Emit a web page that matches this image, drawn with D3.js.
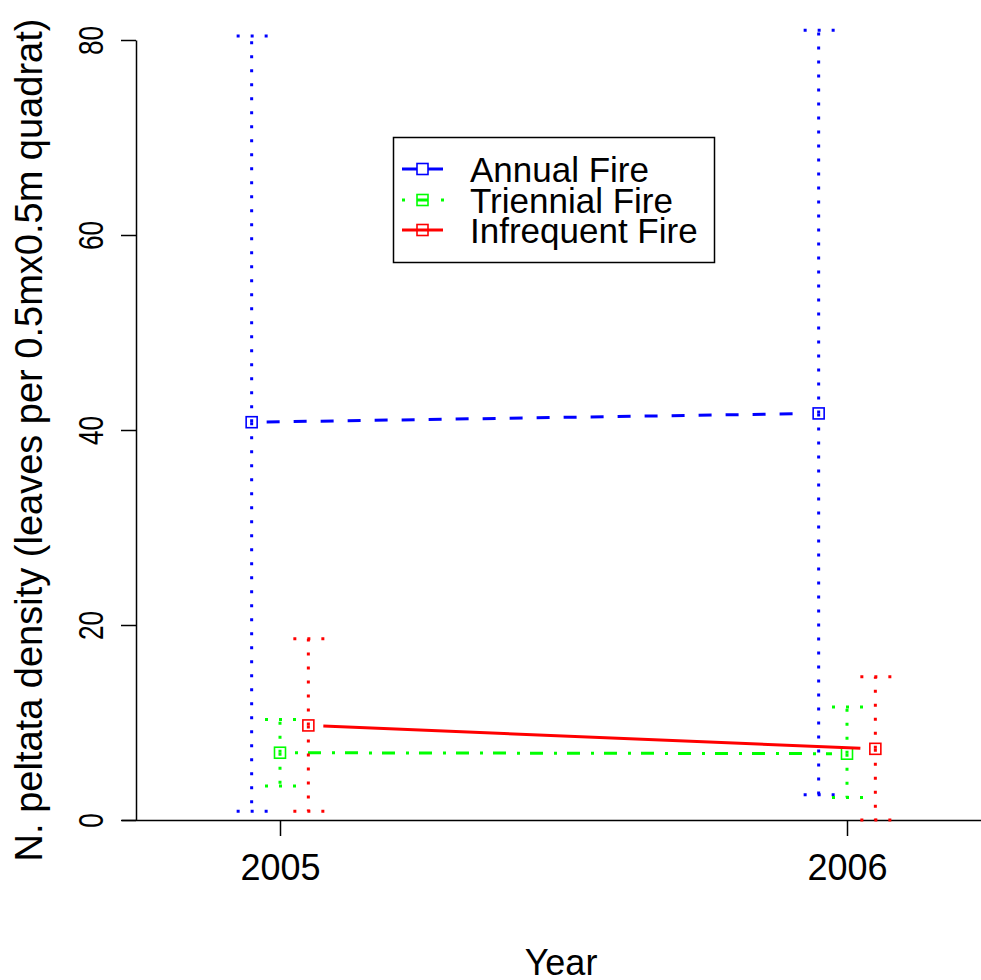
<!DOCTYPE html>
<html>
<head>
<meta charset="utf-8">
<script src="https://cdn.jsdelivr.net/npm/d3@7"></script>
<style>
	body { margin: 0; background: white; }
	svg text { font-family: "Liberation Sans", Arial, sans-serif; fill: black; }
</style>
</head>
<body>
<div id="chart-area"></div>
<script>

// data
const years = [2005, 2006];
const seriesNames = ["Annual Fire", "Triennial Fire", "Infrequent Fire"];

const annualMean = [40.8, 41.7];
const annualLow = [0.9, 2.6];
const annualHigh = [80.4, 81.0];

const triennialMean = [6.9, 6.8];
const triennialLow = [3.5, 2.3];
const triennialHigh = [10.3, 11.6];

const infrequentMean = [9.7, 7.3];
const infrequentLow = [0.9, 0.0];
const infrequentHigh = [18.6, 14.7];

const yTicks = [0, 20, 40, 60, 80];


class FireDensityVis {

	constructor(_parentElement) {
		this.parentElement = _parentElement;
		this.initVis();
	}

	initVis() {
		let vis = this;

		vis.width = 981;
		vis.height = 980;

		// style per series (colour, dash of the connecting line, small x dodge in years)
		vis.styles = [
			{ color: "#0000ff", dash: "13,14", dodge: -0.05 },
			{ color: "#00ff00", dash: "3,10,13,11", dodge: 0 },
			{ color: "#ff0000", dash: null, dodge: 0.05 }
		];

		vis.series = [
			{ name: seriesNames[0], mean: annualMean, low: annualLow, high: annualHigh },
			{ name: seriesNames[1], mean: triennialMean, low: triennialLow, high: triennialHigh },
			{ name: seriesNames[2], mean: infrequentMean, low: infrequentLow, high: infrequentHigh }
		];

		vis.svg = d3.select("#" + vis.parentElement).append("svg")
			.attr("width", vis.width)
			.attr("height", vis.height);

		vis.xScale = d3.scaleLinear()
			.domain([2005, 2006])
			.range([280, 847]);

		vis.yScale = d3.scaleLinear()
			.domain([0, 80])
			.range([820, 40]);

		// y axis
		vis.yAxis = d3.axisLeft(vis.yScale)
			.tickValues(yTicks)
			.tickSize(15)
			.tickSizeOuter(0)
			.tickPadding(0);

		vis.yAxisGroup = vis.svg.append("g")
			.attr("class", "y-axis")
			.attr("transform", "translate(136,0)")
			.call(vis.yAxis);

		vis.yAxisGroup.selectAll("path, line")
			.attr("stroke", "black")
			.attr("stroke-width", 1.5);
		// tick labels are narrow in the original, so squeeze them along the text
		vis.yAxisGroup.selectAll("text")
			.attr("x", 0)
			.attr("y", 0)
			.attr("dy", null)
			.attr("transform", "translate(-33,0) rotate(-90) scale(0.75,1)")
			.attr("text-anchor", "middle")
			.style("font-size", "35px")
			.style("font-family", "Liberation Sans, Arial, sans-serif")
			.attr("fill", "black");

		// x axis: long base line plus two ticks
		vis.svg.append("line")
			.attr("x1", 122)
			.attr("x2", 981)
			.attr("y1", 820.5)
			.attr("y2", 820.5)
			.attr("stroke", "black")
			.attr("stroke-width", 1.5);

		vis.xAxis = d3.axisBottom(vis.xScale)
			.tickValues(years)
			.tickFormat(d3.format("d"))
			.tickSize(16)
			.tickSizeOuter(0)
			.tickPadding(0);

		vis.xAxisGroup = vis.svg.append("g")
			.attr("class", "x-axis")
			.attr("transform", "translate(0,820)")
			.call(vis.xAxis);

		vis.xAxisGroup.select("path").remove();
		vis.xAxisGroup.selectAll("line")
			.attr("stroke", "black")
			.attr("stroke-width", 1.5);
		vis.xAxisGroup.selectAll("text")
			.attr("y", 60)
			.attr("dy", null)
			.style("font-size", "36px")
			.style("font-family", "Liberation Sans, Arial, sans-serif")
			.attr("fill", "black");

		// axis titles
		vis.svg.append("text")
			.attr("x", 561)
			.attr("y", 975)
			.attr("text-anchor", "middle")
			.style("font-size", "36px")
			.text("Year");

		vis.svg.append("text")
			.attr("transform", "translate(42,440) rotate(-90)")
			.attr("text-anchor", "middle")
			.style("font-size", "38px")
			.text("N. peltata density (leaves per 0.5mx0.5m quadrat)");

		vis.drawSeries();
		vis.drawLegend();
	}

	drawSeries() {
		let vis = this;
		let gap = 15;
		let capHalf = 15;

		vis.series.forEach(function (s, i) {
			let st = vis.styles[i];
			let pts = years.map((yr, j) => ({
				x: vis.xScale(yr + st.dodge),
				y: vis.yScale(s.mean[j]),
				lo: vis.yScale(s.low[j]),
				hi: vis.yScale(s.high[j])
			}));

			// connecting line, trimmed around the points like type="b"
			let dx = pts[1].x - pts[0].x, dy = pts[1].y - pts[0].y;
			let len = Math.sqrt(dx * dx + dy * dy);
			let ux = dx / len, uy = dy / len;
			let seg = [
				[pts[0].x + ux * gap, pts[0].y + uy * gap],
				[pts[1].x - ux * gap, pts[1].y - uy * gap]
			];
			vis.svg.append("path")
				.datum(seg)
				.attr("class", "series-line")
				.attr("d", d3.line())
				.attr("fill", "none")
				.attr("stroke", st.color)
				.attr("stroke-width", 3)
				.attr("stroke-dasharray", st.dash);

			// dotted error bars
			let eb = vis.svg.append("g").attr("class", "errbar");
			pts.forEach(function (p) {
				[p.hi, p.lo].forEach(function (end) {
					eb.append("line")
						.attr("x1", p.x).attr("x2", p.x)
						.attr("y1", p.y).attr("y2", end)
						.attr("stroke", st.color)
						.attr("stroke-width", 3)
						.attr("stroke-dasharray", "3,11");
					eb.append("line")
						.attr("x1", p.x - capHalf).attr("x2", p.x + capHalf + 1)
						.attr("y1", end).attr("y2", end)
						.attr("stroke", st.color)
						.attr("stroke-width", 3)
						.attr("stroke-dasharray", "3,11");
				});
			});

			// open square markers
			vis.svg.selectAll(".pt-" + i)
				.data(pts)
				.enter()
				.append("rect")
				.attr("class", "pt-" + i)
				.attr("x", d => d.x - 5.5)
				.attr("y", d => d.y - 5.5)
				.attr("width", 11)
				.attr("height", 11)
				.attr("fill", "none")
				.attr("stroke", st.color)
				.attr("stroke-width", 1.6);
		});
	}

	drawLegend() {
		let vis = this;

		let legend = vis.svg.append("g")
			.attr("class", "legend");

		legend.append("rect")
			.attr("x", 393.5)
			.attr("y", 137.5)
			.attr("width", 321)
			.attr("height", 125)
			.attr("fill", "white")
			.attr("stroke", "black")
			.attr("stroke-width", 1.5);

		let rowY = [169, 200, 230];

		vis.series.forEach(function (s, i) {
			let st = vis.styles[i];
			let y = rowY[i];
			let row = legend.append("g");

			if (i === 1) {
				// dot-dash sample: end dots plus the middle stroke
				[402, 441].forEach(function (x) {
					row.append("line")
						.attr("x1", x).attr("x2", x + 3)
						.attr("y1", y).attr("y2", y)
						.attr("stroke", st.color)
						.attr("stroke-width", 3);
				});
				row.append("line")
					.attr("x1", 417).attr("x2", 428)
					.attr("y1", y).attr("y2", y)
					.attr("stroke", st.color)
					.attr("stroke-width", 3);
			} else {
				row.append("line")
					.attr("x1", 402).attr("x2", 443)
					.attr("y1", y).attr("y2", y)
					.attr("stroke", st.color)
					.attr("stroke-width", 3);
			}

			row.append("rect")
				.attr("x", 417)
				.attr("y", y - 5.5)
				.attr("width", 11)
				.attr("height", 11)
				.attr("fill", i === 0 ? "white" : "none")
				.attr("stroke", st.color)
				.attr("stroke-width", 1.6);

			row.append("text")
				.attr("x", 470)
				.attr("y", y + 13)
				.style("font-size", "35px")
				.text(s.name);
		});
	}
}

new FireDensityVis("chart-area");

</script>
</body>
</html>
